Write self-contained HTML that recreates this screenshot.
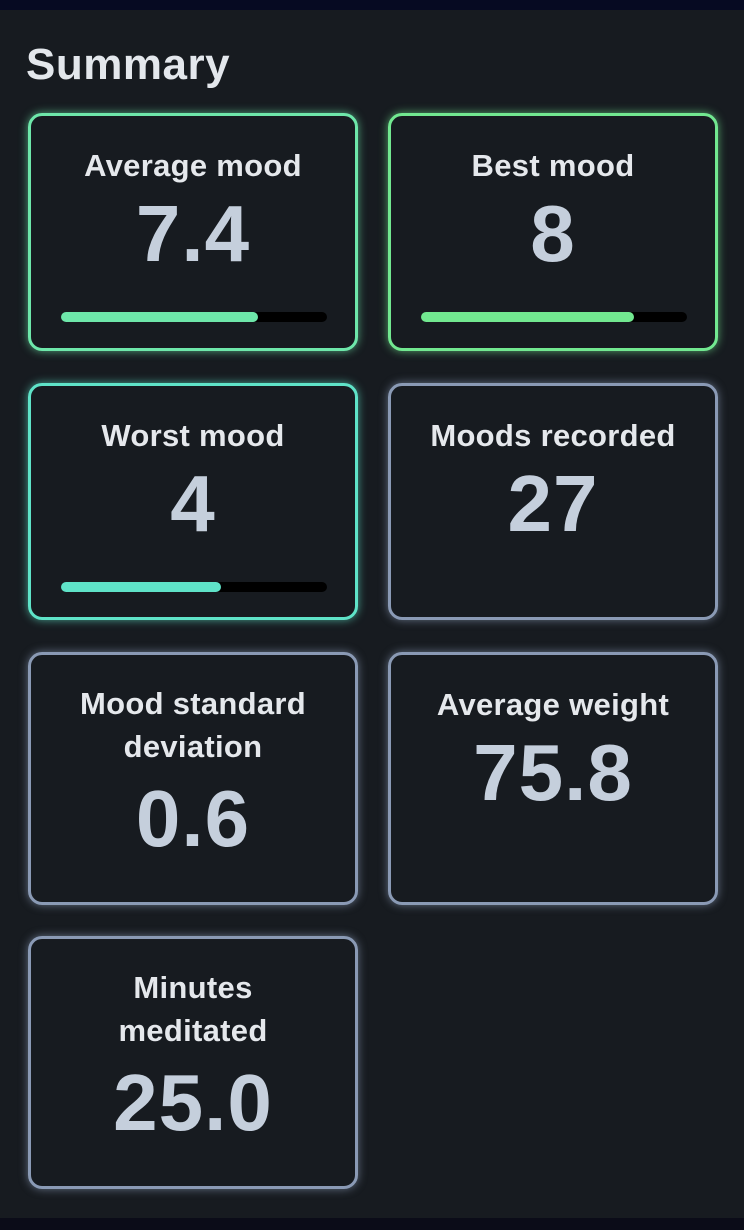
<!DOCTYPE html>
<html><head><meta charset="utf-8"><style>
body{margin:0;width:744px;height:1230px;background:#171b20;position:relative;overflow:hidden;font-family:"Liberation Sans",sans-serif}
.top{position:absolute;left:0;top:0;width:744px;height:10px;background:#060a22}
.bot{position:absolute;left:0;top:1218px;width:744px;height:12px;background:#0b0c18}
h1{position:absolute;left:26px;top:40px;margin:0;font-size:44px;font-weight:bold;color:#e3e7ec;letter-spacing:0.5px}
.card{position:absolute;box-sizing:border-box;border:3px solid #8a9ab5;border-radius:14px;text-align:center;color:#e5e8ec}
.t{font-size:31px;font-weight:bold;line-height:43px;letter-spacing:0.3px;white-space:nowrap}
.v{font-size:80px;font-weight:bold;color:#c5cfdc;line-height:80px;letter-spacing:1px}
.track{position:absolute;left:30px;top:196px;width:266px;height:10px;background:#000;border-radius:5px}
.fill{height:10px;border-radius:5px}
</style></head><body>
<div class="top"></div>
<h1>Summary</h1>
<div id="cards"></div>
<div class="bot"></div>
<script>
const labels=["Average mood","Best mood","Worst mood","Moods recorded","Mood standard deviation","Average weight","Minutes meditated"];
const values=["7.4","8","4","27","0.6","75.8","25.0"];
const progress=[0.74,0.8,0.6,null,null,null,null];
const colors=["#6ee7aa","#72e890","#5fe3c8","#8a9ab5","#8a9ab5","#8a9ab5","#8a9ab5"];
const boxes=[[28,113,330,238],[388,113,330,238],[28,383,330,237],[388,383,330,237],[28,652,330,253],[388,652,330,253],[28,936,330,253]];
const titles2={4:["Mood standard","deviation"],6:["Minutes","meditated"]};
const root=document.getElementById('cards');
labels.forEach((l,i)=>{
 const c=document.createElement('div');c.className='card';
 
 
 const [x,y,w,h]=boxes[i];
 c.style.cssText+=`left:${x}px;top:${y}px;width:${w}px;height:${h}px;border-color:${colors[i]};box-shadow:0 0 9px ${colors[i]}aa`;
 const two=!!titles2[i];
 const t=document.createElement('div');t.className='t';
 
 
 t.style.marginTop=(two?27:28)+'px';
 t.innerHTML=two?titles2[i].join('<br>'):l;
 c.appendChild(t);
 const v=document.createElement('div');v.className='v';
 
 
 v.style.marginTop=(two?11:7)+'px';
 v.textContent=values[i];c.appendChild(v);
 if(progress[i]!=null){
  const tr=document.createElement('div');tr.className='track';
  
  
  const f=document.createElement('div');f.className='fill';
  
  
  f.style.width=(progress[i]*266)+'px';f.style.background=colors[i];
  tr.appendChild(f);c.appendChild(tr);
 }
 root.appendChild(c);
});
</script>
</body></html>
